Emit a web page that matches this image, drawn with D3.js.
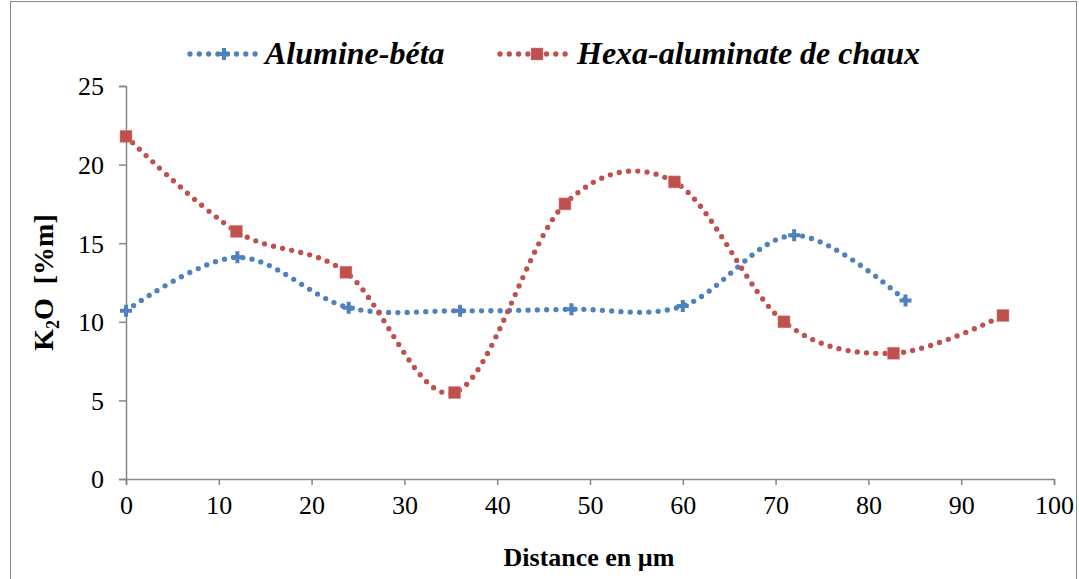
<!DOCTYPE html>
<html>
<head>
<meta charset="utf-8">
<script src="https://cdn.jsdelivr.net/npm/d3@7"></script>
<style>
	body { margin: 0; background: #fff; }
	svg { display: block; }
</style>
</head>
<body>
<div id="content"></div>
<script>
// Data
var distAlumine = [0, 12, 24, 36, 48, 60, 72, 84];
var k2oAlumine = [10.7, 14.1, 10.9, 10.7, 10.8, 11.0, 15.5, 11.35];
var distHexa = [0, 11.9, 23.7, 35.4, 47.3, 59.1, 70.9, 82.7, 94.5];
var k2oHexa = [21.8, 15.75, 13.15, 5.5, 17.5, 18.9, 10.0, 8.0, 10.4];
var seriesNames = ["Alumine-béta", "Hexa-aluminate de chaux"];
var xTicks = [0, 10, 20, 30, 40, 50, 60, 70, 80, 90, 100];
var yTicks = [0, 5, 10, 15, 20, 25];

var blue = "#4F81BD";
var red = "#C0504D";
var axisGray = "#868686";
var serif = "'Liberation Serif', 'Times New Roman', serif";

function main() {
	var width = 1079, height = 579;

	var svg = d3.select("#content")
		.append("svg")
		.attr("width", width)
		.attr("height", height);

	// outer chart frame
	svg.append("rect")
		.attr("x", 10.5).attr("y", 1.5)
		.attr("width", 1066).attr("height", 620)
		.attr("fill", "none")
		.attr("stroke", axisGray)
		.attr("stroke-width", 1);

	var x = d3.scaleLinear().domain([0, 100]).range([126, 1054]);
	var y = d3.scaleLinear().domain([0, 25]).range([479, 86]);

	// axes
	var yAxis = svg.append("g")
		.attr("transform", "translate(" + x(0) + ",0)")
		.call(d3.axisLeft(y).tickValues(yTicks).tickSize(7).tickPadding(15));
	var xAxis = svg.append("g")
		.attr("transform", "translate(0," + y(0) + ")")
		.call(d3.axisBottom(x).tickValues(xTicks).tickSize(6).tickPadding(11));

	[xAxis, yAxis].forEach(function (g) {
		g.select(".domain").attr("stroke", axisGray).attr("stroke-width", 1.5);
		g.selectAll(".tick line").attr("stroke", axisGray).attr("stroke-width", 1.5);
		g.selectAll(".tick text")
			.attr("fill", "#000")
			.style("font-family", serif)
			.style("font-size", "26px");
	});
	yAxis.selectAll(".tick text").attr("dy", "0.34em");

	// series
	var series = [
		{ name: seriesNames[0], color: blue, marker: "plus",
			pts: distAlumine.map(function (d, i) { return [d, k2oAlumine[i]]; }) },
		{ name: seriesNames[1], color: red, marker: "square",
			pts: distHexa.map(function (d, i) { return [d, k2oHexa[i]]; }) }
	];

	var line = d3.line()
		.x(function (d) { return x(d[0]); })
		.y(function (d) { return y(d[1]); })
		.curve(d3.curveCatmullRom.alpha(0));

	series.forEach(function (s) {
		var g = svg.append("g");
		g.append("path")
			.attr("d", line(s.pts))
			.attr("fill", "none")
			.attr("stroke", s.color)
			.attr("stroke-width", 5.3)
			.attr("stroke-linecap", "round")
			.attr("stroke-dasharray", "0,9.3");
		s.pts.forEach(function (p) {
			drawMarker(g, s.marker, x(p[0]), y(p[1]), s.color);
		});
	});

	// legend
	var legend = [
		{ x0: 190, x1: 256, mx: 224, tx: 265 },
		{ x0: 500, x1: 568, mx: 537, tx: 577 }
	];
	legend.forEach(function (l, i) {
		var s = series[i];
		var g = svg.append("g");
		g.append("line")
			.attr("x1", l.x0).attr("x2", l.x1)
			.attr("y1", 54).attr("y2", 54)
			.attr("stroke", s.color)
			.attr("stroke-width", 5.3)
			.attr("stroke-linecap", "round")
			.attr("stroke-dasharray", "0,9.3");
		drawMarker(g, s.marker, l.mx, 54, s.color);
		g.append("text")
			.attr("x", l.tx).attr("y", 64)
			.style("font-family", serif)
			.style("font-size", "32px")
			.style("font-weight", "bold")
			.style("font-style", "italic")
			.text(s.name);
	});

	// axis titles
	svg.append("text")
		.attr("x", 589).attr("y", 566)
		.attr("text-anchor", "middle")
		.style("font-family", serif)
		.style("font-size", "26px")
		.style("font-weight", "bold")
		.text("Distance en µm");

	var yt = svg.append("text")
		.attr("transform", "translate(53," + ((y(0) + y(25)) / 2) + ") rotate(-90)")
		.attr("text-anchor", "middle")
		.style("font-family", serif)
		.style("font-size", "28px")
		.style("font-weight", "bold");
	yt.append("tspan").text("K");
	yt.append("tspan").attr("dy", 6).style("font-size", "18px").text("2");
	yt.append("tspan").attr("dy", -6).text("O\u00a0\u00a0[%m]");
}

function drawMarker(g, type, cx, cy, color) {
	if (type === "plus") {
		g.append("path")
			.attr("d", "M" + (cx - 6) + "," + cy + "H" + (cx + 6) +
				"M" + cx + "," + (cy - 6) + "V" + (cy + 6))
			.attr("stroke", color)
			.attr("stroke-width", 4)
			.attr("fill", "none");
	} else {
		g.append("rect")
			.attr("x", cx - 6).attr("y", cy - 6)
			.attr("width", 12).attr("height", 12)
			.attr("fill", color)
			.attr("stroke", "#d98a88")
			.attr("stroke-width", 1)
			.attr("stroke-dasharray", "1,1");
	}
}

(() => {
	main();
})()
</script>
</body>
</html>
